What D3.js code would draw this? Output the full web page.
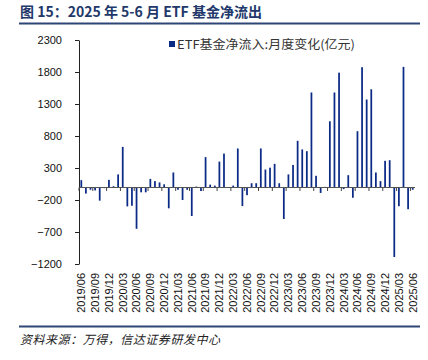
<!DOCTYPE html>
<html><head><meta charset="utf-8">
<script src="https://cdn.jsdelivr.net/npm/d3@7"></script>
<style>body{margin:0;background:#fff}svg{display:block}</style>
</head><body>
<svg id="c" width="428" height="360"></svg>
<script>
const titleText = "图 15：2025 年 5-6 月 ETF 基金净流出";
const legendText = "ETF基金净流入:月度变化(亿元)";
const sourceText = "资料来源：万得，信达证券研发中心";
const yTicks = [-1200, -700, -200, 300, 800, 1300, 1800, 2300];
const startYear = 2019, startMonth = 6, monthCount = 73;
const months = d3.range(monthCount).map(i => {
  const m = startMonth - 1 + i;
  return `${startYear + Math.floor(m / 12)}/${String(m % 12 + 1).padStart(2, "0")}`;
});
const values = [
  110, -100, -40, -50, -210, -15, 115,
  15, 200, 630, -300, -290, -650, -80, -80, 130, 95, 75, 45,
  -330, 230, -40, -200, -40, -450, 10, -60, 470, 40, 25, 400,
  525, -10, 25, 605, -295, -125, 62, 62, 605, 276, 305, 365,
  62, -497, 200, 348, 725, 590, 563, 1480, 178, -90, 5, 1030,
  1480, 1790, -30, 188, -165, 875, 1875, 1370, 1530, 230, 95, 412,
  422, -1090, -297, 1880, -344, -40
];
const labelMonths = months.filter((d, i) => i % 3 === 0);

const svg = d3.select("#c");
const navy = "#0b2a86";

svg.append("text").attr("x", 20).attr("y", 17)
  .attr("font-family", "'Noto Sans CJK SC', sans-serif").attr("font-weight", "bold")
  .attr("font-size", 14).attr("fill", "#22386a").text(titleText);
svg.append("line").attr("x1", 19).attr("x2", 420).attr("y1", 23.5).attr("y2", 23.5)
  .attr("stroke", "#2e4677").attr("stroke-width", 2);

const x = d3.scaleBand().domain(months).range([79, 415]).paddingInner(0.62).paddingOuter(0.31);
const y = d3.scaleLinear().domain([-1200, 2300]).range([264, 40]);
const step = x.step();

// y axis
const ya = svg.append("g").attr("transform", "translate(79,0)")
  .call(d3.axisLeft(y).tickValues(yTicks).tickSize(4).tickSizeOuter(0).tickPadding(13).tickFormat(d3.format("d")));
ya.selectAll("text").attr("font-family", "'Liberation Sans', Arial, sans-serif").attr("font-size", 11).attr("fill", "#111");
ya.selectAll("line,path").attr("stroke", "#222");

// bars
svg.append("g").selectAll("rect").data(values).join("rect")
  .attr("x", (d, i) => x(months[i]))
  .attr("width", x.bandwidth())
  .attr("y", d => y(Math.max(0, d)))
  .attr("height", d => Math.abs(y(d) - y(0)))
  .attr("fill", navy);

// x axis at zero
const y0 = Math.round(y(0)) + 0.5;
svg.append("line").attr("x1", 79).attr("x2", 415).attr("y1", y0).attr("y2", y0)
  .attr("stroke", "#555").attr("stroke-width", 1.2);
svg.append("g").selectAll("line").data(labelMonths).join("line")
  .attr("x1", d => x(d) + x.bandwidth() / 2 - step / 2)
  .attr("x2", d => x(d) + x.bandwidth() / 2 - step / 2)
  .attr("y1", y0).attr("y2", y0 + 3.5).attr("stroke", "#444");

// x labels
const xa = svg.append("g").attr("transform", "translate(0,271)")
  .call(d3.axisBottom(x).tickValues(labelMonths).tickSize(0).tickPadding(0));
xa.select(".domain").remove();
xa.selectAll("text")
  .attr("font-family", "'Liberation Sans', Arial, sans-serif").attr("font-size", 11).attr("fill", "#111")
  .attr("transform", "rotate(-90)").attr("text-anchor", "end")
  .attr("x", -2).attr("y", 0).attr("dy", "0.35em");

// legend
svg.append("rect").attr("x", 169).attr("y", 41).attr("width", 6).attr("height", 6).attr("fill", navy);
svg.append("text").attr("x", 177).attr("y", 48.5)
  .attr("font-family", "'Noto Sans CJK SC', sans-serif").attr("font-size", 12)
  .attr("fill", "#333").attr("textLength", 178).attr("lengthAdjust", "spacingAndGlyphs").text(legendText);

// footer
svg.append("line").attr("x1", 19).attr("x2", 420).attr("y1", 326.5).attr("y2", 326.5)
  .attr("stroke", "#2e4677").attr("stroke-width", 2);
svg.append("text").attr("x", 20).attr("y", 344)
  .attr("font-family", "'Noto Sans CJK SC', sans-serif").attr("font-size", 12).attr("font-style", "italic")
  .attr("fill", "#222").attr("textLength", 200).attr("lengthAdjust", "spacing").text(sourceText);
</script>
</body></html>
